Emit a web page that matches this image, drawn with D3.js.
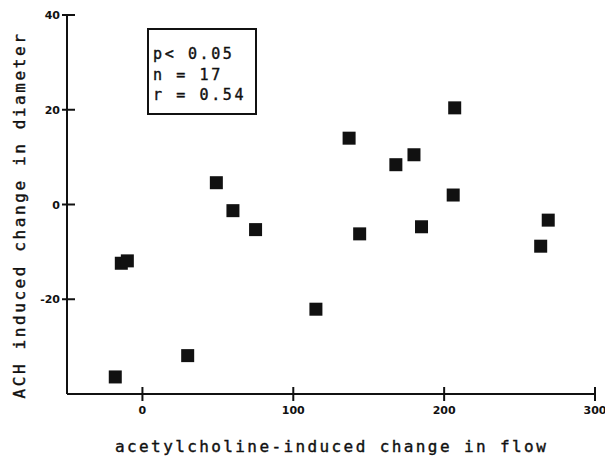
<!DOCTYPE html>
<html><head><meta charset="utf-8">
<script src="https://cdn.jsdelivr.net/npm/d3@7"></script>
<style>body{margin:0;background:#fff}</style>
</head><body>
<script>
const flowChange = [-18, -14, -10, 30, 49, 60, 75, 115, 137, 207, 180, 168, 206, 144, 185, 269, 264];
const diameterChange = [-36.4, -12.4, -11.9, -31.9, 4.6, -1.3, -5.3, -22.1, 14.0, 20.4, 10.5, 8.4, 2.0, -6.2, -4.7, -3.3, -8.8];
const xTicks = [0, 100, 200, 300];
const yTicks = [-20, 0, 20, 40];
const statsLines = ["p< 0.05", "n = 17", "r = 0.54"];
const xLabel = "acetylcholine-induced change in flow";
const yLabel = "ACH induced change in diameter";

const W = 605, H = 457;
const svg = d3.select("body").append("svg").attr("width", W).attr("height", H);
const x = d3.scaleLinear().domain([-50, 300]).range([67, 595]);
const y = d3.scaleLinear().domain([-40, 40]).range([394, 15]);
const ink = "#111";
const mono = "'DejaVu Sans Mono', monospace";

// axes lines
svg.append("line").attr("x1", x(-50)).attr("x2", x(300)).attr("y1", y(-40)).attr("y2", y(-40))
  .attr("stroke", ink).attr("stroke-width", 2);
svg.append("line").attr("x1", x(-50)).attr("x2", x(-50)).attr("y1", y(-40)).attr("y2", y(40))
  .attr("stroke", ink).attr("stroke-width", 2);

// x ticks
const xt = svg.append("g").selectAll("g").data(xTicks).join("g");
xt.append("line").attr("x1", d => x(d)).attr("x2", d => x(d)).attr("y1", y(-40) - 7).attr("y2", y(-40) + 7)
  .attr("stroke", ink).attr("stroke-width", 2);
xt.append("text").attr("x", d => x(d)).attr("y", 414).attr("text-anchor", "middle")
  .attr("font-family", "'DejaVu Sans', sans-serif").attr("font-weight", "bold").attr("font-size", 11)
  .attr("fill", ink).text(d => d);

// y ticks
const yt = svg.append("g").selectAll("g").data(yTicks).join("g");
yt.append("line").attr("x1", x(-50) - 5).attr("x2", x(-50) + 8).attr("y1", d => y(d)).attr("y2", d => y(d))
  .attr("stroke", ink).attr("stroke-width", 2);
yt.append("text").attr("x", 60).attr("y", d => y(d) + 4).attr("text-anchor", "end")
  .attr("font-family", "'DejaVu Sans', sans-serif").attr("font-weight", "bold").attr("font-size", 11)
  .attr("fill", ink).text(d => d);

// points
const data = flowChange.map((v, i) => ({x: v, y: diameterChange[i]}));
const s = 13;
svg.append("g").selectAll("rect").data(data).join("rect")
  .attr("x", d => x(d.x) - s / 2).attr("y", d => y(d.y) - s / 2)
  .attr("width", s).attr("height", s).attr("fill", ink);

// stats box
svg.append("rect").attr("x", 148).attr("y", 29).attr("width", 108).attr("height", 85)
  .attr("fill", "none").attr("stroke", ink).attr("stroke-width", 2);
svg.append("g").selectAll("text").data(statsLines).join("text")
  .attr("x", 153).attr("y", (d, i) => 59 + i * 20.5)
  .attr("font-family", mono).attr("font-size", 15).attr("letter-spacing", 2.6)
  .attr("fill", ink).attr("stroke", ink).attr("stroke-width", 0.4).text(d => d);

// axis labels
svg.append("text").attr("x", 115).attr("y", 452)
  .attr("font-family", mono).attr("font-size", 16).attr("letter-spacing", 2.4)
  .attr("fill", ink).attr("stroke", ink).attr("stroke-width", 0.4).text(xLabel);
svg.append("text").attr("transform", "translate(25,215) rotate(-90)").attr("text-anchor", "middle")
  .attr("font-family", mono).attr("font-size", 16).attr("letter-spacing", 2.6)
  .attr("fill", ink).attr("stroke", ink).attr("stroke-width", 0.4).text(yLabel);
</script>
</body></html>
